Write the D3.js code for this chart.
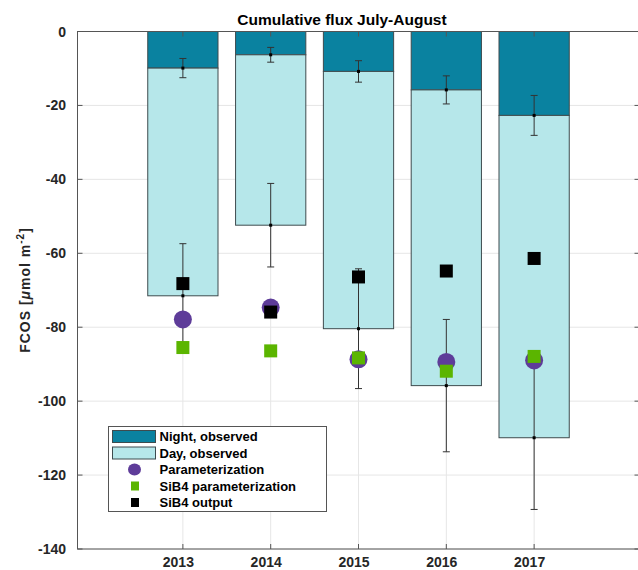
<!DOCTYPE html>
<html>
<head>
<meta charset="utf-8">
<script src="https://cdn.jsdelivr.net/npm/d3@7"></script>
<style>
  html, body { margin: 0; padding: 0; background: #fff; }
  svg { display: block; font-family: "Liberation Sans", Arial, Helvetica, sans-serif; }
</style>
</head>
<body>
<svg id="chart" width="638" height="570"></svg>
<script>
// Cumulative COS flux, July–August, per year
const years      = [2013, 2014, 2015, 2016, 2017];
const nightObs   = [-9.9, -6.3, -10.8, -15.8, -22.7];   // night part of the observed flux
const nightErr   = [2.6, 2.0, 2.9, 3.8, 5.4];
const dayObs     = [-61.6, -46.1, -69.6, -80.0, -87.2]; // day part, stacked below night
const totalErr   = [14.1, 11.3, 16.2, 17.9, 19.4];
const paramVals  = [-77.9, -74.7, -88.7, -89.4, -89.0];
const sib4Param  = [-85.5, -86.4, -88.3, -91.9, -87.9];
const sib4Output = [-68.2, -75.9, -66.4, -64.8, -61.4];
const yTicks     = [0, -20, -40, -60, -80, -100, -120, -140];

const colors = {
  night: "#0A82A0",
  day: "#B6E7EA",
  edge: "#3E4B4E",
  param: "#5E3C99",
  sib4Param: "#5BB500",
  sib4Output: "#000000",
  grid: "#E6E6E6",
  axis: "#555555"
};

const svg = d3.select("#chart");
const margin = { left: 77.5, right: 639.5, top: 31.5, bottom: 549 };

const x = d3.scaleLinear().domain([2011.8, 2018.2]).range([margin.left, margin.right]);
const y = d3.scaleLinear().domain([-140, 0]).range([margin.bottom, margin.top]);
const barW = x(2013.4) - x(2012.6);

const rows = years.map((yr, i) => ({
  year: yr,
  night: nightObs[i],
  nightErr: nightErr[i],
  total: nightObs[i] + dayObs[i],
  totalErr: totalErr[i],
  param: paramVals[i],
  sib4Param: sib4Param[i],
  sib4Output: sib4Output[i]
}));

// grid lines
const grid = svg.append("g");
grid.selectAll("line.gy").data(yTicks).join("line")
  .attr("x1", margin.left).attr("x2", margin.right)
  .attr("y1", d => y(d)).attr("y2", d => y(d))
  .attr("stroke", colors.grid).attr("stroke-width", 1);
grid.selectAll("line.gx").data(years).join("line")
  .attr("x1", d => x(d)).attr("x2", d => x(d))
  .attr("y1", margin.top).attr("y2", margin.bottom)
  .attr("stroke", colors.grid).attr("stroke-width", 1);

// stacked bars: night on top, day below it
const bars = svg.append("g");
bars.selectAll("rect.night").data(rows).join("rect")
  .attr("x", d => x(d.year) - barW / 2)
  .attr("width", barW)
  .attr("y", y(0))
  .attr("height", d => y(d.night) - y(0))
  .attr("fill", colors.night)
  .attr("stroke", colors.edge).attr("stroke-width", 1);
bars.selectAll("rect.day").data(rows).join("rect")
  .attr("x", d => x(d.year) - barW / 2)
  .attr("width", barW)
  .attr("y", d => y(d.night))
  .attr("height", d => y(d.total) - y(d.night))
  .attr("fill", colors.day)
  .attr("stroke", colors.edge).attr("stroke-width", 1);

// error bars
function errorBars(g, center, err) {
  const cap = 3.5;
  const grp = g.append("g");
  rows.forEach(d => {
    const cx = x(d.year), c = d[center], e = d[err];
    grp.append("line").attr("x1", cx).attr("x2", cx)
      .attr("y1", y(c + e)).attr("y2", y(c - e))
      .attr("stroke", "#333").attr("stroke-width", 1);
    [c + e, c - e].forEach(v => {
      grp.append("line").attr("x1", cx - cap).attr("x2", cx + cap)
        .attr("y1", y(v)).attr("y2", y(v))
        .attr("stroke", "#333").attr("stroke-width", 1);
    });
    grp.append("rect").attr("x", cx - 1.5).attr("y", y(c) - 1.5)
      .attr("width", 3).attr("height", 3).attr("fill", "#000");
  });
}
const eb = svg.append("g");
errorBars(eb, "night", "nightErr");
errorBars(eb, "total", "totalErr");

// model markers
const marks = svg.append("g");
marks.selectAll("circle.param").data(rows).join("circle")
  .attr("cx", d => x(d.year)).attr("cy", d => y(d.param))
  .attr("r", 9).attr("fill", colors.param);
const sq = 13;
marks.selectAll("rect.sp").data(rows).join("rect")
  .attr("x", d => x(d.year) - sq / 2).attr("y", d => y(d.sib4Param) - sq / 2)
  .attr("width", sq).attr("height", sq).attr("fill", colors.sib4Param);
marks.selectAll("rect.so").data(rows).join("rect")
  .attr("x", d => x(d.year) - sq / 2).attr("y", d => y(d.sib4Output) - sq / 2)
  .attr("width", sq).attr("height", sq).attr("fill", colors.sib4Output);

// axes box with inward ticks on all four sides
const tickLen = 5;
const axisG = svg.append("g").attr("stroke", colors.axis).attr("stroke-width", 1);
axisG.append("rect")
  .attr("x", margin.left).attr("y", margin.top)
  .attr("width", margin.right - margin.left).attr("height", margin.bottom - margin.top)
  .attr("fill", "none");
yTicks.forEach(t => {
  axisG.append("line").attr("x1", margin.left).attr("x2", margin.left + tickLen)
    .attr("y1", y(t)).attr("y2", y(t));
  axisG.append("line").attr("x1", margin.right).attr("x2", margin.right - tickLen)
    .attr("y1", y(t)).attr("y2", y(t));
});
years.forEach(t => {
  axisG.append("line").attr("x1", x(t)).attr("x2", x(t))
    .attr("y1", margin.bottom).attr("y2", margin.bottom - tickLen);
  axisG.append("line").attr("x1", x(t)).attr("x2", x(t))
    .attr("y1", margin.top).attr("y2", margin.top + tickLen);
});

// tick labels
svg.append("g").selectAll("text").data(yTicks).join("text")
  .attr("x", 66).attr("y", d => y(d) + 5)
  .attr("text-anchor", "end")
  .attr("font-size", 14).attr("font-weight", "bold").attr("fill", "#262626")
  .text(d => d);
svg.append("g").selectAll("text").data(years).join("text")
  .attr("x", d => x(d) - 4.5).attr("y", 567)
  .attr("text-anchor", "middle")
  .attr("font-size", 14).attr("font-weight", "bold").attr("fill", "#262626")
  .text(d => d);

// title
svg.append("text")
  .attr("x", 342).attr("y", 25)
  .attr("text-anchor", "middle")
  .attr("font-size", 15.5).attr("font-weight", "bold").attr("fill", "#000")
  .text("Cumulative flux July-August");

// y-axis label
const yl = svg.append("text")
  .attr("transform", `translate(30,290) rotate(-90)`)
  .attr("text-anchor", "middle")
  .attr("letter-spacing", 1)
  .attr("font-size", 14).attr("font-weight", "bold").attr("fill", "#262626");
yl.append("tspan").text("FCOS [");
yl.append("tspan").attr("font-style", "italic").text("μ");
yl.append("tspan").text("mol m");
yl.append("tspan").attr("font-size", 10).attr("dy", -6).text("-2");
yl.append("tspan").attr("dy", 6).text("]");

// legend
const legendItems = [
  { label: "Night, observed", type: "patch", color: colors.night },
  { label: "Day, observed", type: "patch", color: colors.day },
  { label: "Parameterization", type: "circle", color: colors.param },
  { label: "SiB4 parameterization", type: "square", color: colors.sib4Param },
  { label: "SiB4 output", type: "square", color: colors.sib4Output }
];
const lg = svg.append("g").attr("transform", "translate(108.5,426.5)");
lg.append("rect").attr("width", 218).attr("height", 85)
  .attr("fill", "#fff").attr("stroke", "#555").attr("stroke-width", 1);
legendItems.forEach((it, i) => {
  const cy = 10 + i * 16.5;
  if (it.type === "patch") {
    lg.append("rect").attr("x", 4).attr("y", cy - 6).attr("width", 43).attr("height", 12)
      .attr("fill", it.color).attr("stroke", colors.edge).attr("stroke-width", 1);
  } else if (it.type === "circle") {
    lg.append("ellipse").attr("cx", 26).attr("cy", cy).attr("rx", 6.5).attr("ry", 6)
      .attr("fill", it.color);
  } else {
    lg.append("rect").attr("x", 22.5).attr("y", cy - 4.5).attr("width", 8).attr("height", 9)
      .attr("fill", it.color);
  }
  lg.append("text").attr("x", 51).attr("y", cy + 4.5)
    .attr("font-size", 13).attr("font-weight", "bold").attr("fill", "#000")
    .text(it.label);
});
</script>
</body>
</html>
